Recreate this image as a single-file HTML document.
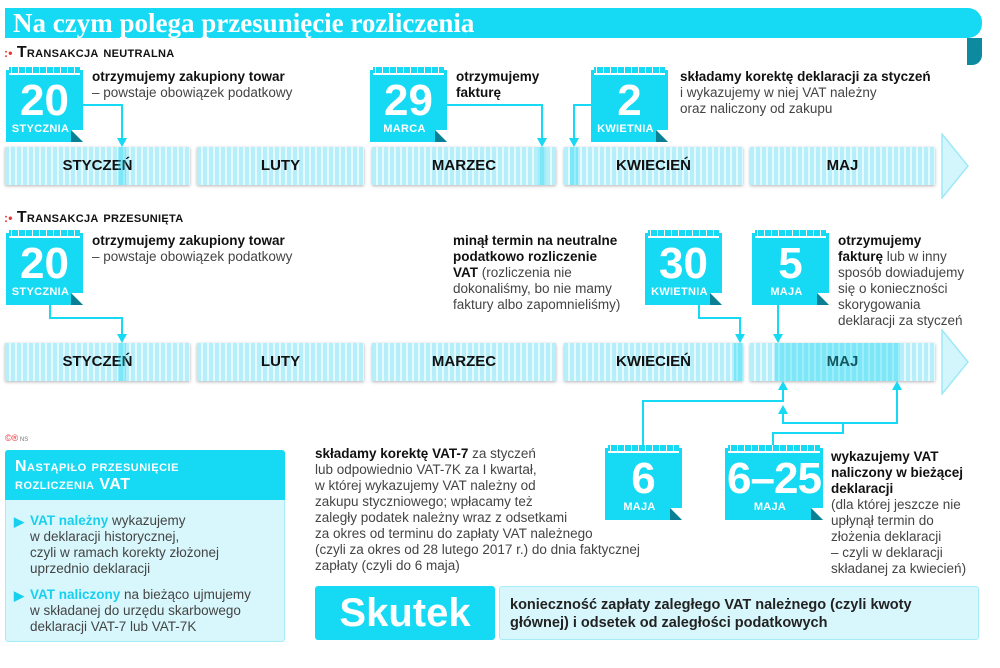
<!DOCTYPE html>
<html><head><meta charset="utf-8">
<style>
*{margin:0;padding:0;box-sizing:border-box}
body{width:1000px;height:668px;background:#fff;position:relative;overflow:hidden;font-family:"Liberation Sans",sans-serif;color:#333}
.a{position:absolute}
.cy{background:#16d9f4}
.title{left:5px;top:8px;width:977px;height:30px;border-radius:0 14px 14px 0;color:#fff;font-family:"Liberation Serif",serif;font-weight:bold;font-size:27px;line-height:30px;padding-left:8px}
.curl{left:967px;top:38px;width:15px;height:27px;background:#0e8aa0;border-radius:0 0 10px 0}
.hdr{font-weight:bold;font-size:16px;color:#111;letter-spacing:.3px;font-variant:small-caps}
.hdr b{color:#e33;font-size:12px;margin-right:4px}
.cal{color:#fff;text-align:center;background:#16d9f4}
.cal .rings{position:absolute;left:3px;right:3px;top:-3px;height:8px;background:repeating-linear-gradient(90deg,#16d9f4 0 2px,#fff 2px 3px,#16d9f4 3px 7px);border-bottom:2px solid #fff}
.cal .n{font-weight:bold;font-size:44px;line-height:44px;margin-top:9px}
.cal .m{font-weight:bold;font-size:11px;letter-spacing:.3px;margin-right:8px}
.cal .fold{position:absolute;right:0;bottom:0;width:0;height:0;border-left:12px solid #0b7f93;border-top:12px solid transparent}
.cal .foldw{position:absolute;right:0;bottom:0;width:0;height:0;border-right:12px solid #fff;border-bottom:12px solid transparent}
.seg{height:38px;background:repeating-linear-gradient(90deg,#b6eff9 0 4px,#e4fafe 4px 6px);box-shadow:0 1px 3px rgba(0,0,0,.3);text-align:center;font-weight:bold;font-size:15px;line-height:38px;color:#111}
.txt{font-size:13.5px;line-height:16px;color:#444}
.txt b{color:#111}
.ln{position:absolute;background:#16d9f4}
.arD{position:absolute;width:0;height:0;border-left:5px solid transparent;border-right:5px solid transparent;border-top:9px solid #16d9f4}
.arU{position:absolute;width:0;height:0;border-left:5px solid transparent;border-right:5px solid transparent;border-bottom:9px solid #16d9f4}
.hl{position:absolute;background:rgba(22,217,244,.35)}
</style></head><body>
<div class="a cy title">Na czym polega przesunięcie rozliczenia</div>
<div class="a curl"></div>

<div class="a hdr" style="left:4px;top:44px"><b>:•</b>Transakcja neutralna</div>

<div class="a cal" style="left:6px;top:70px;width:77px;height:72px"><div class="rings"></div><div class="n">20</div><div class="m">STYCZNIA</div><div class="foldw"></div><div class="fold"></div></div>
<div class="a txt" style="left:92px;top:69px"><b>otrzymujemy zakupiony towar</b><br>– powstaje obowiązek podatkowy</div>
<div class="a cal" style="left:370px;top:70px;width:77px;height:72px"><div class="rings"></div><div class="n">29</div><div class="m">MARCA</div><div class="foldw"></div><div class="fold"></div></div>
<div class="a txt" style="left:456px;top:69px"><b>otrzymujemy<br>fakturę</b></div>
<div class="a cal" style="left:591px;top:70px;width:77px;height:72px"><div class="rings"></div><div class="n">2</div><div class="m">KWIETNIA</div><div class="foldw"></div><div class="fold"></div></div>
<div class="a txt" style="left:680px;top:69px"><b>składamy korektę deklaracji za styczeń</b><br>i wykazujemy w niej VAT należny<br>oraz naliczony od zakupu</div>

<div class="ln" style="left:83px;top:104px;width:40px;height:2px"></div>
<div class="ln" style="left:121px;top:104px;width:2px;height:36px"></div>
<div class="arD" style="left:117px;top:138px"></div>
<div class="ln" style="left:447px;top:104px;width:96px;height:2px"></div>
<div class="ln" style="left:541px;top:104px;width:2px;height:36px"></div>
<div class="arD" style="left:537px;top:138px"></div>
<div class="ln" style="left:573px;top:104px;width:18px;height:2px"></div>
<div class="ln" style="left:573px;top:104px;width:2px;height:36px"></div>
<div class="arD" style="left:569px;top:138px"></div>

<div class="a seg" style="left:5px;top:147px;width:185px">STYCZEŃ</div>
<div class="a seg" style="left:197px;top:147px;width:167px">LUTY</div>
<div class="a seg" style="left:372px;top:147px;width:184px">MARZEC</div>
<div class="a seg" style="left:564px;top:147px;width:179px">KWIECIEŃ</div>
<div class="a seg" style="left:750px;top:147px;width:185px">MAJ</div>
<div class="hl" style="left:118px;top:147px;width:8px;height:38px"></div>
<div class="hl" style="left:538px;top:147px;width:8px;height:38px"></div>
<div class="hl" style="left:570px;top:147px;width:8px;height:38px"></div>
<svg class="a" style="left:940px;top:133px" width="30" height="66"><polygon points="2,1 28,33 2,65" fill="#d3f6fc" stroke="#9fe9f6" stroke-width="1.5"/></svg>

<div class="a hdr" style="left:4px;top:209px"><b>:•</b>Transakcja przesunięta</div>

<div class="a cal" style="left:6px;top:233px;width:77px;height:72px"><div class="rings"></div><div class="n">20</div><div class="m">STYCZNIA</div><div class="foldw"></div><div class="fold"></div></div>
<div class="a txt" style="left:92px;top:233px"><b>otrzymujemy zakupiony towar</b><br>– powstaje obowiązek podatkowy</div>
<div class="a txt" style="left:453px;top:233px"><b>minął termin na neutralne<br>podatkowo rozliczenie<br>VAT</b> (rozliczenia nie<br>dokonaliśmy, bo nie mamy<br>faktury albo zapomnieliśmy)</div>
<div class="a cal" style="left:645px;top:233px;width:77px;height:72px"><div class="rings"></div><div class="n">30</div><div class="m">KWIETNIA</div><div class="foldw"></div><div class="fold"></div></div>
<div class="a cal" style="left:752px;top:233px;width:77px;height:72px"><div class="rings"></div><div class="n">5</div><div class="m">MAJA</div><div class="foldw"></div><div class="fold"></div></div>
<div class="a txt" style="left:838px;top:233px"><b>otrzymujemy<br>fakturę</b> lub w inny<br>sposób dowiadujemy<br>się o konieczności<br>skorygowania<br>deklaracji za styczeń</div>

<div class="ln" style="left:49px;top:305px;width:2px;height:14px"></div>
<div class="ln" style="left:49px;top:317px;width:74px;height:2px"></div>
<div class="ln" style="left:121px;top:317px;width:2px;height:20px"></div>
<div class="arD" style="left:117px;top:334px"></div>
<div class="ln" style="left:698px;top:305px;width:2px;height:14px"></div>
<div class="ln" style="left:698px;top:317px;width:43px;height:2px"></div>
<div class="ln" style="left:739px;top:317px;width:2px;height:20px"></div>
<div class="arD" style="left:735px;top:334px"></div>
<div class="ln" style="left:777px;top:305px;width:2px;height:32px"></div>
<div class="arD" style="left:773px;top:334px"></div>

<div class="a seg" style="left:5px;top:343px;width:185px">STYCZEŃ</div>
<div class="a seg" style="left:197px;top:343px;width:167px">LUTY</div>
<div class="a seg" style="left:372px;top:343px;width:184px">MARZEC</div>
<div class="a seg" style="left:564px;top:343px;width:179px">KWIECIEŃ</div>
<div class="a seg" style="left:750px;top:343px;width:185px">MAJ</div>
<div class="hl" style="left:118px;top:343px;width:8px;height:38px"></div>
<div class="hl" style="left:734px;top:343px;width:9px;height:38px"></div>
<div class="hl" style="left:775px;top:343px;width:125px;height:38px"></div>
<svg class="a" style="left:940px;top:329px" width="30" height="66"><polygon points="2,1 28,33 2,65" fill="#d3f6fc" stroke="#9fe9f6" stroke-width="1.5"/></svg>

<div class="ln" style="left:642px;top:400px;width:2px;height:48px"></div>
<div class="ln" style="left:642px;top:400px;width:142px;height:2px"></div>
<div class="ln" style="left:782px;top:386px;width:2px;height:16px"></div>
<div class="arU" style="left:778px;top:381px"></div>
<div class="ln" style="left:772px;top:432px;width:2px;height:16px"></div>
<div class="ln" style="left:772px;top:432px;width:72px;height:2px"></div>
<div class="ln" style="left:842px;top:422px;width:2px;height:12px"></div>
<div class="ln" style="left:782px;top:422px;width:116px;height:2px"></div>
<div class="ln" style="left:782px;top:412px;width:2px;height:12px"></div>
<div class="arU" style="left:778px;top:405px"></div>
<div class="ln" style="left:896px;top:386px;width:2px;height:38px"></div>
<div class="arU" style="left:892px;top:381px"></div>

<div class="a" style="left:5px;top:433px;font-size:9px;color:#e33">©®<span style="color:#777;font-size:6px"> NS</span></div>

<div class="a" style="left:5px;top:450px;width:280px;height:192px;background:#d8f7fc;border:1px solid #a6ecf7;border-radius:3px"></div>
<div class="a cy" style="left:5px;top:450px;width:280px;height:50px;border-radius:3px 3px 0 0;color:#fff;font-weight:bold;font-size:16px;line-height:18px;padding:8px 0 0 10px;font-variant:small-caps;letter-spacing:.5px">Nastąpiło przesunięcie<br>rozliczenia VAT</div>
<div class="a txt" style="left:30px;top:513px;width:250px"><b style="color:#16d0ee">VAT należny</b> wykazujemy<br>w deklaracji historycznej,<br>czyli w ramach korekty złożonej<br>uprzednio deklaracji</div>
<div class="a txt" style="left:30px;top:587px;width:250px"><b style="color:#16d0ee">VAT naliczony</b> na bieżąco ujmujemy<br>w składanej do urzędu skarbowego<br>deklaracji VAT-7 lub VAT-7K</div>
<div class="a" style="left:14px;top:514px;color:#16d0ee;font-size:13px;font-weight:bold">▶</div>
<div class="a" style="left:14px;top:588px;color:#16d0ee;font-size:13px;font-weight:bold">▶</div>

<div class="a txt" style="left:315px;top:446px"><b>składamy korektę VAT-7</b> za styczeń<br>lub odpowiednio VAT-7K za I kwartał,<br>w której wykazujemy VAT należny od<br>zakupu styczniowego; wpłacamy też<br>zaległy podatek należny wraz z odsetkami<br>za okres od terminu do zapłaty VAT należnego<br>(czyli za okres od 28 lutego 2017 r.) do dnia faktycznej<br>zapłaty (czyli do 6 maja)</div>

<div class="a cal" style="left:605px;top:448px;width:77px;height:72px"><div class="rings"></div><div class="n">6</div><div class="m">MAJA</div><div class="foldw"></div><div class="fold"></div></div>
<div class="a cal" style="left:725px;top:448px;width:98px;height:72px"><div class="rings"></div><div class="n" style="letter-spacing:-1px">6–25</div><div class="m">MAJA</div><div class="foldw"></div><div class="fold"></div></div>
<div class="a txt" style="left:831px;top:449px"><b>wykazujemy VAT<br>naliczony w bieżącej<br>deklaracji</b><br>(dla której jeszcze nie<br>upłynął termin do<br>złożenia deklaracji<br>– czyli w deklaracji<br>składanej za kwiecień)</div>

<div class="a cy" style="left:315px;top:586px;width:180px;height:54px;border-radius:3px;color:#fff;font-weight:bold;font-size:40px;line-height:54px;text-align:center">Skutek</div>
<div class="a" style="left:499px;top:586px;width:480px;height:54px;background:#d8f7fc;border:1px solid #a6ecf7;border-radius:3px;font-weight:bold;font-size:14.5px;line-height:18px;color:#222;padding:9px 0 0 10px">konieczność zapłaty zaległego VAT należnego (czyli kwoty<br>głównej) i odsetek od zaległości podatkowych</div>
</body></html>
